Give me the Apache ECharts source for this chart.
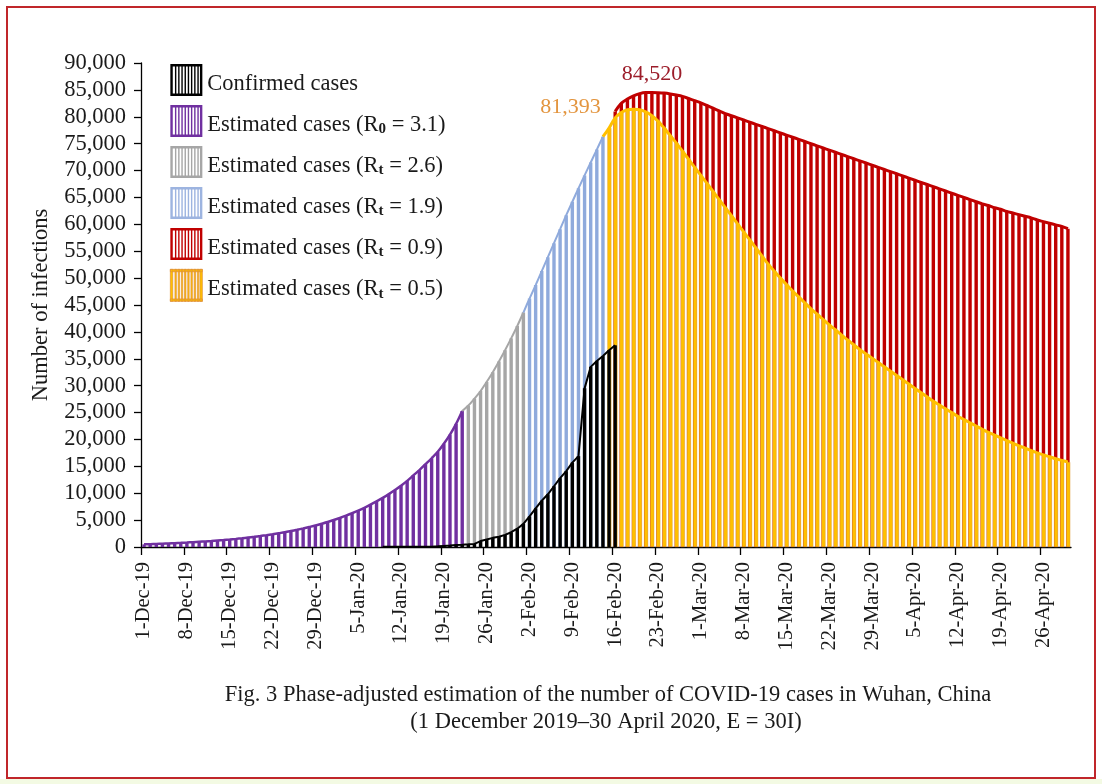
<!DOCTYPE html>
<html><head><meta charset="utf-8">
<script src="https://cdn.jsdelivr.net/npm/echarts/dist/echarts.min.js"></script>
<style>html,body{margin:0;padding:0;background:#fff}#c{width:1102px;height:784px}</style>
</head><body><div id="c"></div>
<script>
// ---- categories (daily, 1 Dec 2019 – 30 Apr 2020) ----
const monthSpec = [['Dec','19',31],['Jan','20',31],['Feb','20',29],['Mar','20',31],['Apr','20',30]];
const categories = [];
monthSpec.forEach(([m,y,n]) => { for (let d = 1; d <= n; d++) categories.push(d + '-' + m + '-' + y); });

// ---- series values ----
const purpleStart = '1-Dec-19';   // Estimated cases (R0 = 3.1)
const purpleValues = [490,530,570,615,665,715,770,830,895,965,1040,1120,1210,1300,1400,1510,1630,1760,1890,2040,
  2200,2370,2560,2750,2970,3200,3450,3720,4000,4320,4650,5010,5400,5820,6280,6770,7290,7860,8470,9130,
  9840,10600,11400,12300,13300,14300,15400,16500,17700,19200,20900,22900,25300];
const grayStart = '23-Jan-20';    // Estimated cases (Rt = 2.6)
const grayValues = [26300,27600,29000,30700,32500,34500,36600,38800,41100,43600];
const blueStart = '2-Feb-20';     // Estimated cases (Rt = 1.9)
const blueValues = [46200,48700,51300,53900,56500,59100,61700,64200,66700,69100,71500,73900,76300];
const yellowStart = '15-Feb-20';  // Estimated cases (Rt = 0.5)
const yellowValues = [77900,79800,80800,81300,81393,81300,80900,80200,79200,77900,76500,75100,73600,72100,70600,
  69100,67600,66100,64600,63100,61600,60100,58600,57100,55600,54100,52600,51300,50000,48800,47600,46500,45400,
  44300,43300,42300,41300,40400,39400,38500,37600,36700,35900,35100,34300,33500,32700,31900,31100,30300,29500,
  28700,27900,27100,26400,25700,25000,24300,23700,23100,22500,21900,21300,20800,20300,19800,19300,18800,18400,
  17900,17500,17100,16800,16400,16100,15800];
const redStart = '16-Feb-20';     // Estimated cases (Rt = 0.9)
const redValues = [81000,82500,83300,83900,84300,84500,84520,84480,84400,84250,84050,83800,83400,83000,82600,
  82100,81600,81100,80600,80200,79800,79400,79000,78600,78200,77800,77400,77000,76600,76200,75800,75400,75000,
  74600,74200,73800,73400,73000,72600,72200,71800,71400,71000,70600,70200,69800,69400,69000,68600,68200,67800,
  67400,67000,66600,66200,65800,65400,65000,64600,64200,63800,63500,63100,62800,62400,62100,61800,61500,61200,
  60800,60500,60200,59900,59600,59200];
const confirmedStart = '9-Jan-20'; // Confirmed cases
const confirmedValues = [41,41,41,41,41,41,41,45,62,121,198,258,363,425,495,572,1100,1400,1700,1900,2250,2750,
  3400,4300,5700,7200,8600,9800,11300,12800,14100,15700,16900,29500,33500,34600,35500,36600,37500];

const yTicks = { min: 0, max: 90000, interval: 5000 };
const xTickEvery = 7; // a tick and a label every 7 days
const seriesNames = ['Confirmed cases','Estimated cases (R0 = 3.1)','Estimated cases (Rt = 2.6)',
  'Estimated cases (Rt = 1.9)','Estimated cases (Rt = 0.9)','Estimated cases (Rt = 0.5)'];
const captionLines = ['Fig. 3 Phase-adjusted estimation of the number of COVID-19 cases in Wuhan, China',
  '(1 December 2019\u201330 April 2020, E = 30I)'];

// ---- helpers ----
const FONT = '"Liberation Serif","Times New Roman",serif';
const N = categories.length;
function pad(start, values) {
  const a = new Array(N).fill(null);
  const s = categories.indexOf(start);
  values.forEach((v, k) => { a[s + k] = v; });
  return a;
}
const fmt = v => Number(v).toLocaleString('en-US');

const purple = pad(purpleStart, purpleValues);
const gray = pad(grayStart, grayValues);
const blue = pad(blueStart, blueValues);
const yellow = pad(yellowStart, yellowValues);
const red = pad(redStart, redValues);
const confirmed = pad(confirmedStart, confirmedValues);

// top outlines joined to the previous phase
function joinPrev(arr, prev) {
  const a = arr.slice();
  const s = a.findIndex(v => v != null);
  if (s > 0 && prev[s - 1] != null) a[s - 1] = prev[s - 1];
  return a;
}
const grayLine = joinPrev(gray, purple);
const blueLine = joinPrev(blue, gray);
const yellowLine = joinPrev(yellow, blue);

// peak labels
const redPeak = red.indexOf(Math.max(...redValues));
const yellowPeak = yellow.indexOf(Math.max(...yellowValues));
const redData = red.map((v, i) => i === redPeak ? { value: v, label: { show: true, position: 'top', distance: 7,
  formatter: p => fmt(p.value), color: '#9c1d2a', fontFamily: FONT, fontSize: 22 } } : v);
const yellowData = yellow.map((v, i) => i === yellowPeak ? { value: v, label: { show: true, position: [-31, -2],
  align: 'right', verticalAlign: 'middle', formatter: p => fmt(p.value), color: '#e3953f', fontFamily: FONT, fontSize: 22 } } : v);

// day boundaries (for tick marks between days)
const dayBoundaries = categories.concat(['end']);

const BW = 3.4;
function bar(name, data, color, z, extra) {
  return Object.assign({ name, type: 'bar', data, barWidth: BW, barGap: '-100%', z,
    itemStyle: { color }, animation: false, silent: true }, extra || {});
}
function line(name, data, color, width, z, smooth) {
  return { name, type: 'line', data, symbol: 'none', showSymbol: false, smooth: smooth === undefined ? 0.35 : smooth,
    z, lineStyle: { color, width }, animation: false, silent: true, connectNulls: false };
}

// striped legend icon
let iconPath = 'M0,0H32V2.4H0Z M0,29.6H32V32H0Z M0,0H2.4V32H0Z M29.6,0H32V32H29.6Z';
for (let x = 4.6; x < 28; x += 3.2) iconPath += ' M' + x.toFixed(1) + ',0H' + (x + 1.4).toFixed(1) + 'V32H' + x.toFixed(1) + 'Z';
const ICON = 'path://' + iconPath;

const legendColors = ['#000000', '#7030a0', '#a6a6a6', '#9db4e0', '#c00000', '#ffc000'];
const legendRich = {
  'Confirmed cases': '{c|Confirmed cases}',
  'Estimated cases (R0 = 3.1)': '{n|Estimated cases (R}{s|0}{n| = 3.1)}',
  'Estimated cases (Rt = 2.6)': '{n|Estimated cases (R}{s|t}{n| = 2.6)}',
  'Estimated cases (Rt = 1.9)': '{n|Estimated cases (R}{s|t}{n| = 1.9)}',
  'Estimated cases (Rt = 0.9)': '{n|Estimated cases (R}{s|t}{n| = 0.9)}',
  'Estimated cases (Rt = 0.5)': '{n|Estimated cases (R}{s|t}{n| = 0.5)}'
};

const chart = echarts.init(document.getElementById('c'), null, { renderer: 'canvas' });
chart.setOption({
  animation: false,
  backgroundColor: '#ffffff',
  grid: { left: 141, right: 31, top: 63, bottom: 237, containLabel: false },
  xAxis: [{
    type: 'category', data: categories, boundaryGap: true, position: 'bottom',
    axisLine: { lineStyle: { color: '#000', width: 1.3 } },
    axisTick: { show: false },
    axisLabel: { interval: xTickEvery - 1, rotate: 90, margin: 15, color: '#1a1a1a', fontFamily: FONT, fontSize: 20.5 },
    splitLine: { show: false }
  }, {
    type: 'category', data: dayBoundaries, boundaryGap: false, position: 'bottom', offset: 0,
    axisLine: { show: false },
    axisTick: { show: true, length: 8, interval: idx => idx % xTickEvery === 0 && idx < N, lineStyle: { color: '#000', width: 1.3 } },
    axisLabel: { show: false },
    splitLine: { show: false }
  }],
  yAxis: {
    type: 'value', min: yTicks.min, max: yTicks.max, interval: yTicks.interval,
    name: 'Number of infections', nameLocation: 'middle', nameGap: 88, nameRotate: 90,
    nameTextStyle: { color: '#1a1a1a', fontFamily: FONT, fontSize: 22.5 },
    axisLine: { show: true, lineStyle: { color: '#000', width: 1.3 } },
    axisTick: { show: true, length: 7, lineStyle: { color: '#000', width: 1.3 } },
    axisLabel: { margin: 15, color: '#1a1a1a', fontFamily: FONT, fontSize: 22.5, formatter: v => fmt(v) },
    splitLine: { show: false }
  },
  legend: {
    orient: 'vertical', left: 170, top: 64, padding: 0, itemWidth: 32, itemHeight: 32, itemGap: 9, selectedMode: false,
    icon: ICON,
    data: seriesNames.map((n, k) => ({ name: n, icon: ICON,
      itemStyle: k === 5 ? { color: '#ffc000', borderColor: '#e08f35', borderWidth: 0.7 } : { color: legendColors[k], borderWidth: 0 } })),
    formatter: name => legendRich[name],
    textStyle: {
      color: '#1a1a1a', fontFamily: FONT, fontSize: 22.5, padding: [8, 0, 0, 0],
      rich: {
        n: { color: '#1a1a1a', fontFamily: FONT, fontSize: 22.5, lineHeight: 22 },
        c: { color: '#1a1a1a', fontFamily: FONT, fontSize: 22.5, lineHeight: 21, padding: [1, 0, 0, 0] },
        s: { color: '#1a1a1a', fontFamily: FONT, fontSize: 15, fontWeight: 'bold', lineHeight: 13, padding: [9, 0, 0, 0] }
      }
    }
  },
  series: [
    bar(seriesNames[4], redData, '#c00000', 2),
    line('redTop', red, '#c00000', 3, 3),
    bar(seriesNames[5], yellowData, '#ffc000', 4, { barWidth: 4, itemStyle: { color: '#ffc000', borderColor: '#dc9a45', borderWidth: 0.4 } }),
    line('yellowTop', yellowLine, '#ffc000', 3, 5),
    bar(seriesNames[1], purple, '#7030a0', 2),
    line('purpleTop', purple, '#7030a0', 2.5, 3),
    bar(seriesNames[2], gray, '#a6a6a6', 2),
    line('grayTop', grayLine, '#a6a6a6', 2, 3),
    bar(seriesNames[3], blue, '#8faadc', 2),
    line('blueTop', blueLine, '#8faadc', 2, 3),
    bar(seriesNames[0], confirmed, '#000000', 6),
    line('confirmedTop', confirmed, '#000000', 2, 7, false)
  ],
  graphic: [
    { type: 'rect', left: 0, top: 779, shape: { width: 1102, height: 5 }, style: { fill: '#f3fae3' }, silent: true },
    { type: 'rect', shape: { x: 7, y: 7, width: 1088, height: 771 }, style: { fill: 'none', stroke: '#c0262a', lineWidth: 2 }, silent: true, z: 100 },
    { type: 'text', x: 608, y: 695, style: { text: captionLines[0], font: '22.5px ' + FONT, fill: '#1a1a1a', align: 'center', verticalAlign: 'middle', textAlign: 'center', textVerticalAlign: 'middle' }, silent: true },
    { type: 'text', x: 606, y: 722, style: { text: captionLines[1], font: '22.5px ' + FONT, fill: '#1a1a1a', align: 'center', verticalAlign: 'middle', textAlign: 'center', textVerticalAlign: 'middle' }, silent: true }
  ]
});
</script>
</body></html>
